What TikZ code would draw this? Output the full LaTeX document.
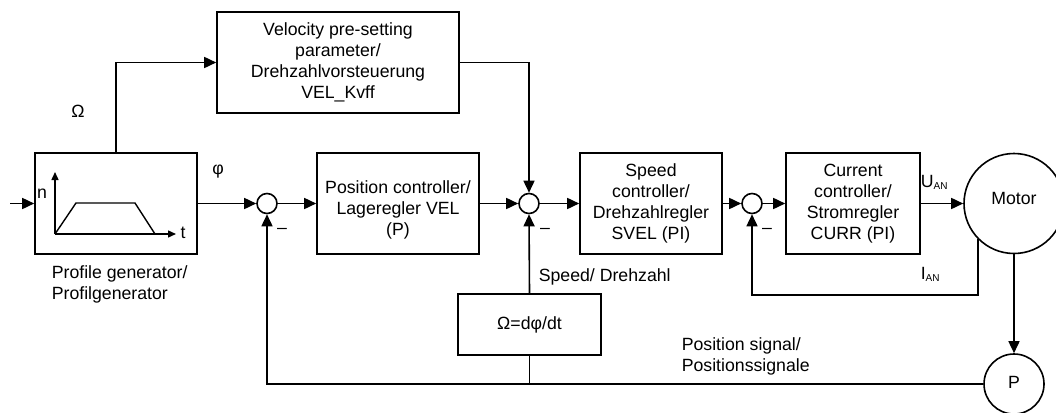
\documentclass[tikz,border=0pt]{standalone}
\usepackage{fontspec}
\setmainfont{Liberation Sans}
\usetikzlibrary{arrows.meta,calc}
\begin{document}
\begin{tikzpicture}[x=1pt,y=-1pt,
  line width=1.6pt,
  every node/.style={font=\fontsize{17.7pt}{21pt}\selectfont, inner sep=0pt},
  box/.style={draw, rectangle, align=center},
  sumc/.style={draw, circle, minimum size=20pt},
  bigc/.style={draw, circle, align=center},
  arr/.style={-{Triangle[length=12pt,width=11pt]}},
  sarr/.style={-{Triangle[length=8pt,width=7pt]}},
  lbl/.style={align=left, anchor=west}]
\useasboundingbox (0,0) rectangle (1056,412);

% blocks
\node[box, minimum width=162pt, minimum height=101pt] (pg) at (116,203.5) {};
\node[box, minimum width=242pt, minimum height=101pt] (vel) at (338,62.5)
  {Velocity pre-setting\\parameter/\\Drehzahlvorsteuerung\\VEL\_Kvff};
\node[box, minimum width=162pt, minimum height=101pt] (pos) at (398,203.5) {};
\node[align=center] (post) at (398,209.5) {Position controller/\\Lageregler VEL\\(P)};
\node[box, minimum width=142pt, minimum height=101pt] (spd) at (651,203.5)
  {Speed\\controller/\\Drehzahlregler\\SVEL (PI)};
\node[box, minimum width=134pt, minimum height=101pt] (cur) at (853,203.5)
  {Current\\controller/\\Stromregler\\CURR (PI)};
\node[box, minimum width=143pt, minimum height=61pt] (om) at (529.5,324.5) {Ω=dφ/dt};
\node[sumc] (s1) at (267,203.5) {};
\node[sumc] (s2) at (529,203.5) {};
\node[sumc] (s3) at (752,203.5) {};
\node[bigc, minimum size=100pt] (motor) at (1014,203.5) {};
\node (motort) at (1014,198) {Motor};
\node[bigc, minimum size=60pt] (P) at (1014,384) {};
\node (Pt) at (1014,382) {P};

% profile graph inside generator
\coordinate (o) at (55,234);
\coordinate (ny) at (55,172);
\coordinate (tx) at (176,234);
\draw[sarr, line width=1.4pt] (o) -- (ny);
\draw[sarr, line width=1.4pt] (o) -- (tx);
\draw[line width=1.4pt] (o) -- (76,203) -- (135,203) -- (155,234);
\node at (42,194) {n};
\node at (183,233) {t};

% connectors
\coordinate (in) at (10,203.5);
\draw[arr] (in) -- (pg.west);
\draw[arr] (pg.east) -- (s1.west);
\draw[arr] (pg.north) |- (vel.west);
\draw[arr] (vel.east) -| (s2.north);
\draw[arr] (s1.east) -- (pos.west);
\draw[arr] (pos.east) -- (s2.west);
\draw[arr] (s2.east) -- (spd.west);
\draw[arr] (spd.east) -- (s3.west);
\draw[arr] (s3.east) -- (cur.west);
\draw[arr] (cur.east) -- (motor.west);
\draw[arr] (om.north) -- (s2.south);
\draw[arr] (motor.south) -- (P.north);
\draw[arr] (P.west) -| (s1.south);
\draw (om.south) -- (om.south |- P.west);
\coordinate (cf) at (752,295);
\draw[arr] (motor.225.6) |- (cf) -- (s3.south);

% labels
\node at (78,111) {Ω};
\node at (218,172) {φ};
\node at (282,231) {–};
\node at (545,231) {–};
\node at (767,231) {–};
\node[lbl] at (538,277) {Speed/ Drehzahl};
\node[lbl] at (681,356) {Position signal/\\Positionssignale};
\node[lbl] at (51,284) {Profile generator/\\Profilgenerator};
\node[lbl] at (920,182) {U\raisebox{-2pt}{\fontsize{10pt}{12pt}\selectfont AN}};
\node[lbl] at (920,274) {I\raisebox{-2pt}{\fontsize{10pt}{12pt}\selectfont AN}};
\end{tikzpicture}
\end{document}
